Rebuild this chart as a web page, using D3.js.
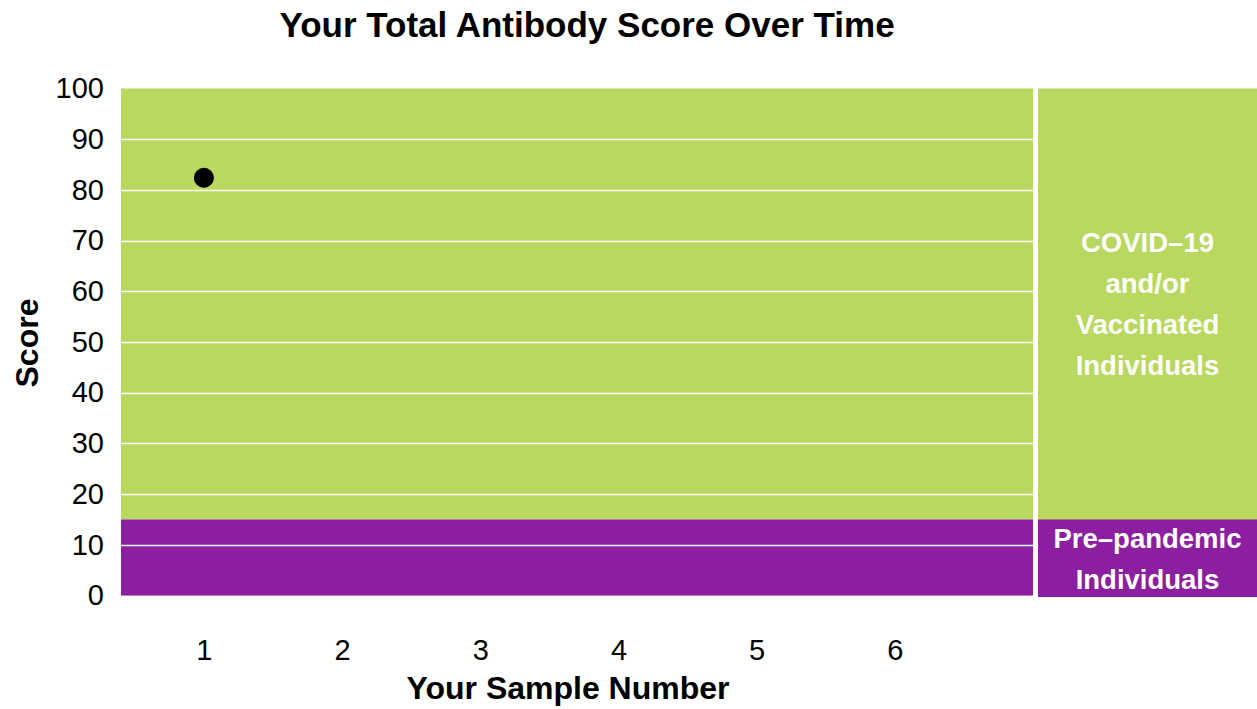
<!DOCTYPE html>
<html lang="en">
<head>
<meta charset="utf-8">
<title>Your Total Antibody Score Over Time</title>
<style>
  body { margin: 0; background: #fff; }
  svg { display: block; font-family: "Liberation Sans", Arial, sans-serif; }
</style>
<script src="https://cdnjs.cloudflare.com/ajax/libs/d3/7.8.5/d3.min.js"></script>
</head>
<body>
<div id="chart"></div>
<script>
// data
var sampleNumbers = [1, 2, 3, 4, 5, 6];
var scores = [82.4];
var yTicks = [0, 10, 20, 30, 40, 50, 60, 70, 80, 90, 100];
var bands = [
  { from: 15, to: 100, color: "#b8d85f", label: ["COVID\u201319", "and/or", "Vaccinated", "Individuals"], shift: 0 },
  { from: 0, to: 15, color: "#8b1fa0", label: ["Pre\u2013pandemic", "Individuals"], shift: 1 }
];

var w = 1257, h = 709;
var plot = { left: 121, right: 1033, top: 88.5, bottom: 595.5 };
var panel = { left: 1038, right: 1257 };

var svg = d3.select("#chart").append("svg")
  .attr("width", w)
  .attr("height", h);

var x = d3.scaleLinear().domain([0.4, 7.0]).range([plot.left, plot.right]);
var y = d3.scaleLinear().domain([0, 100]).range([plot.bottom, plot.top]);

// background bands in plot and in the side panel
bands.forEach(function(b) {
  svg.append("rect")
    .attr("x", plot.left)
    .attr("y", y(b.to))
    .attr("width", plot.right - plot.left)
    .attr("height", y(b.from) - y(b.to))
    .attr("fill", b.color);

  svg.append("rect")
    .attr("x", panel.left)
    .attr("y", y(b.to))
    .attr("width", panel.right - panel.left)
    .attr("height", y(b.from) - y(b.to) + 1.5)
    .attr("fill", b.color);

  var mid = (y(b.from) + y(b.to)) / 2 + b.shift;
  var lineH = 41;
  var start = mid - (b.label.length - 1) * lineH / 2;
  svg.append("g").selectAll("text")
    .data(b.label)
    .enter().append("text")
    .attr("x", (panel.left + panel.right) / 2)
    .attr("y", function(d, i) { return start + i * lineH; })
    .attr("dy", "0.35em")
    .attr("text-anchor", "middle")
    .attr("fill", "#fff")
    .attr("font-size", "27.5px")
    .attr("font-weight", "bold")
    .text(function(d) { return d; });
});

// gridlines
svg.append("g").selectAll("line")
  .data(yTicks.filter(function(t) { return t > 0 && t < 100; }))
  .enter().append("line")
  .attr("x1", plot.left)
  .attr("x2", plot.right)
  .attr("y1", function(d) { return Math.round(y(d)) + 0.5; })
  .attr("y2", function(d) { return Math.round(y(d)) + 0.5; })
  .attr("stroke", "#fff")
  .attr("stroke-width", 1.5);

svg.append("line")
  .attr("x1", plot.left).attr("x2", plot.right)
  .attr("y1", plot.bottom).attr("y2", plot.bottom)
  .attr("stroke", "#b77dc4").attr("stroke-width", 1);

// y axis labels
var yAxis = d3.axisLeft(y).tickValues(yTicks).tickSize(0).tickPadding(17);
var gy = svg.append("g")
  .attr("transform", "translate(" + plot.left + ",0)")
  .call(yAxis);
gy.select(".domain").remove();
gy.selectAll("text")
  .attr("font-size", "29px")
  .attr("font-family", "Liberation Sans, Arial, sans-serif")
  .attr("fill", "#000");

// x axis labels
var xAxis = d3.axisBottom(x).tickValues(sampleNumbers).tickFormat(d3.format("d")).tickSize(0).tickPadding(44);
var gx = svg.append("g")
  .attr("transform", "translate(0," + plot.bottom + ")")
  .call(xAxis);
gx.select(".domain").remove();
gx.selectAll("text")
  .attr("font-size", "29px")
  .attr("font-family", "Liberation Sans, Arial, sans-serif")
  .attr("fill", "#000");

// points
svg.append("g").selectAll("circle")
  .data(scores)
  .enter().append("circle")
  .attr("cx", function(d, i) { return x(sampleNumbers[i]); })
  .attr("cy", function(d) { return y(d); })
  .attr("r", 10)
  .attr("fill", "#000");

// titles
svg.append("text")
  .attr("x", 587)
  .attr("y", 37)
  .attr("text-anchor", "middle")
  .attr("font-size", "35px")
  .attr("font-weight", "bold")
  .text("Your Total Antibody Score Over Time");

svg.append("text")
  .attr("x", 568)
  .attr("y", 699)
  .attr("text-anchor", "middle")
  .attr("font-size", "32px")
  .attr("font-weight", "bold")
  .text("Your Sample Number");

svg.append("text")
  .attr("transform", "translate(38,343) rotate(-90)")
  .attr("text-anchor", "middle")
  .attr("font-size", "32px")
  .attr("font-weight", "bold")
  .text("Score");
</script>
</body>
</html>
